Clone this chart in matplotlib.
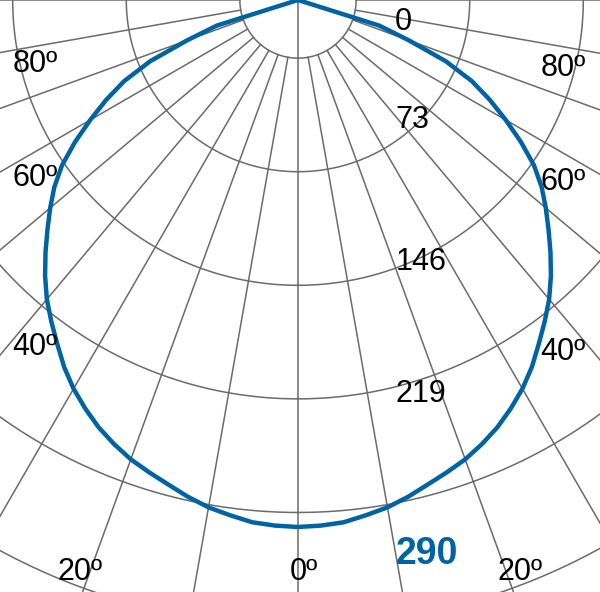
import matplotlib
matplotlib.use("Agg")
import matplotlib.pyplot as plt
import numpy as np

# luminous intensity curve (cd), symmetric, gamma measured from nadir
gamma = [0, 2.5, 5, 7.5, 10, 12.5, 15, 17.5, 20, 22.5, 25, 27.5, 30, 32.5, 35, 37.5,
         40, 42.5, 45, 47.5, 50, 52.5, 55, 57.5, 60, 62.5, 65, 67.5, 70, 72.5,
         75, 77.5, 80, 82.5, 85, 87.5, 90]
intensity = [290, 289.5, 288.5, 286, 283.5, 280, 276, 272.5, 269, 264.5, 259.5, 253.5,
             247, 239.5, 231, 223, 215, 206, 196.5, 187, 178, 169, 158.5, 145.5, 132,
             119, 105.5, 88, 65, 47, 0, 0, 0, 0, 0, 0, 0]

ring_labels = ["0", "73", "146", "219"]
angle_labels = ["80º", "60º", "40º", "20º", "0º", "20º", "40º", "60º", "80º"]
max_label = "290"

# layout (original picture pixels)
PX = 527 / 290          # pixels per cd
CX = 298                # centre x in pixels
W, H = 600, 592
ring_r0, ring_step, n_rings = 32, 62.5, 6
ray_step = 10

ring_label_pos = [(403.5, 22), (412.5, 120), (421, 262), (421, 393.5)]
angle_label_pos = [(35, 63.5), (35, 178.5), (35, 346.5), (80, 572), (304, 572),
                   (520, 572), (563, 352), (563, 181.5), (563, 68)]
max_label_pos = (427, 554)

GRID = "#6b6b6b"
BLUE = "#0064a4"
plt.rcParams["font.family"] = ["Liberation Sans", "DejaVu Sans"]


def px(x, y):
    return (x - CX) / PX, y / PX


fig = plt.figure(figsize=(W / 100, H / 100), dpi=100)
ax = fig.add_axes([0, 0, 1, 1])
ax.set_xlim(-CX / PX, (W - CX) / PX)
ax.set_ylim(H / PX, 0)
ax.set_aspect("equal")
ax.axis("off")

# rings
t = np.linspace(0, 2 * np.pi, 721)
for i in range(n_rings):
    r = ring_r0 + i * ring_step
    ax.plot(r * np.sin(t), r * np.cos(t), color=GRID, lw=1.1, zorder=1)

# rays
for a in range(-180, 181, ray_step):
    a_r = np.radians(a)
    r_in = 0 if a in (0, 180, -180) else ring_r0
    ax.plot([r_in * np.sin(a_r), 1000 * np.sin(a_r)],
            [r_in * np.cos(a_r), 1000 * np.cos(a_r)], color=GRID, lw=1.1, zorder=1)

# curve
g = np.radians(np.array(gamma, dtype=float))
I = np.array(intensity, dtype=float)
xs = np.concatenate([-(I * np.sin(g))[::-1], (I * np.sin(g))[1:]])
ys = np.concatenate([(I * np.cos(g))[::-1], (I * np.cos(g))[1:]])
ax.plot(xs, ys, color=BLUE, lw=3.2, zorder=3, solid_joinstyle="round")

for txt, (x, y) in zip(ring_labels, ring_label_pos):
    ax.text(*px(x, y), txt, fontsize=22, ha="center", va="center", color="black", zorder=4)
for txt, (x, y) in zip(angle_labels, angle_label_pos):
    ax.text(*px(x, y), txt, fontsize=22, ha="center", va="center", color="black", zorder=4)
ax.text(*px(*max_label_pos), max_label, fontsize=27, fontweight="bold",
        ha="center", va="center", color=BLUE, zorder=4)

fig.savefig("out.png", dpi=100)
